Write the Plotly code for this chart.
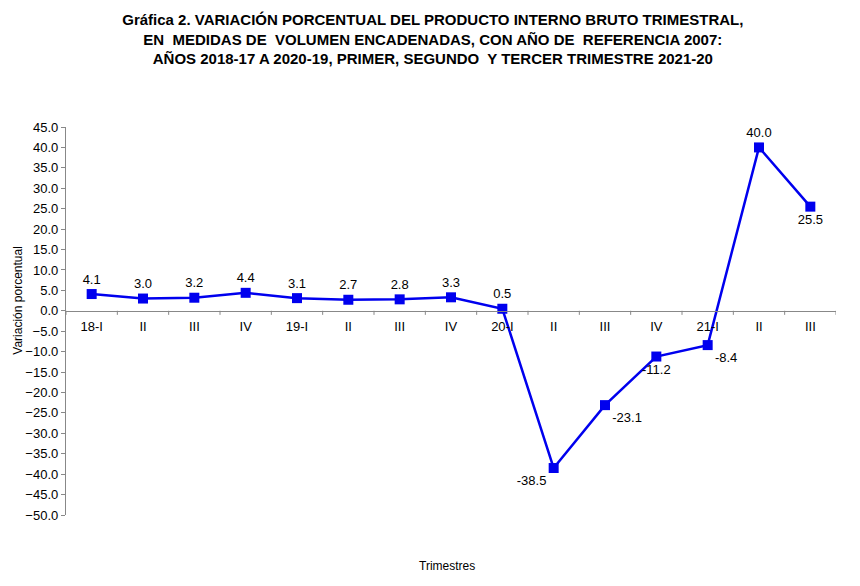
import plotly.graph_objects as go

tick_labels = ["18-I", "II", "III", "IV", "19-I", "II", "III", "IV", "20-I", "II", "III", "IV", "21-I", "II", "III"]
values = [4.1, 3.0, 3.2, 4.4, 3.1, 2.7, 2.8, 3.3, 0.5, -38.5, -23.1, -11.2, -8.4, 40.0, 25.5]
label_pos = ["top center"] * 9 + ["bottom left", "bottom right", "bottom center", "bottom right", "top center", "bottom center"]

y_min, y_max = -50, 45
x_idx = list(range(len(values)))

fig = go.Figure()
fig.add_trace(go.Scatter(
    x=x_idx, y=values,
    mode="lines+markers+text",
    line=dict(color="#0000EE", width=2.5),
    marker=dict(symbol="square", size=10, color="#0000EE"),
    text=[f"{v:.1f}" for v in values],
    textposition=label_pos,
    textfont=dict(family="Liberation Sans, Arial, sans-serif", size=13, color="#000000"),
    cliponaxis=False,
    showlegend=False,
))

fig.update_layout(
    width=860, height=586,
    paper_bgcolor="white", plot_bgcolor="white",
    margin=dict(l=58, r=32, t=119, b=79, autoexpand=False),
    title=dict(
        text="<b>Gráfica 2. VARIACIÓN PORCENTUAL DEL PRODUCTO INTERNO BRUTO TRIMESTRAL,<br>EN  MEDIDAS DE  VOLUMEN ENCADENADAS, CON AÑO DE  REFERENCIA 2007:<br>AÑOS 2018-17 A 2020-19, PRIMER, SEGUNDO  Y TERCER TRIMESTRE 2021-20</b>",
        x=0.494, xanchor="center", xref="container",
        yref="container", y=1 - 17 / 586, yanchor="top",
        automargin=False,
        font=dict(family="Liberation Sans, Arial, sans-serif", size=15, color="#000000"),
    ),
    font=dict(family="Liberation Sans, Arial, sans-serif", size=13, color="#000000"),
)

fig.update_xaxes(
    tickmode="array", tickvals=x_idx, ticktext=tick_labels,
    range=[-0.5, len(values) - 0.5],
    anchor="free", position=(0 - y_min) / (y_max - y_min),
    showline=True, linecolor="#888888", linewidth=1.3,
    ticks="", showgrid=False, zeroline=False, automargin=False,
    ticklabelstandoff=3,
    tickfont=dict(size=13),
)
fig.update_yaxes(
    range=[y_min, y_max], dtick=5, tick0=0, tickformat=".1f",
    showline=True, linecolor="#888888", linewidth=1.3,
    ticks="outside", ticklen=4, tickcolor="#888888",
    showgrid=False, zeroline=False, automargin=False,
    tickfont=dict(size=13),
)

# boundary tick marks on the zero line (between categories)
for b in [i + 0.5 for i in range(-1, len(values))]:
    fig.add_shape(type="line", xref="x", yref="y", x0=b, x1=b, y0=0, y1=-1.0,
                  line=dict(color="#888888", width=1))

fig.add_annotation(text="Variación porcentual", xref="paper", yref="paper", x=-0.0745, y=0.554,
                   textangle=-90, showarrow=False, xanchor="left", yanchor="middle",
                   font=dict(size=12))
fig.add_annotation(text="Trimestres", xref="paper", yref="paper", x=0.495, y=-0.131,
                   showarrow=False, xanchor="center", yanchor="middle", font=dict(size=12))

fig.write_html("out.html")
